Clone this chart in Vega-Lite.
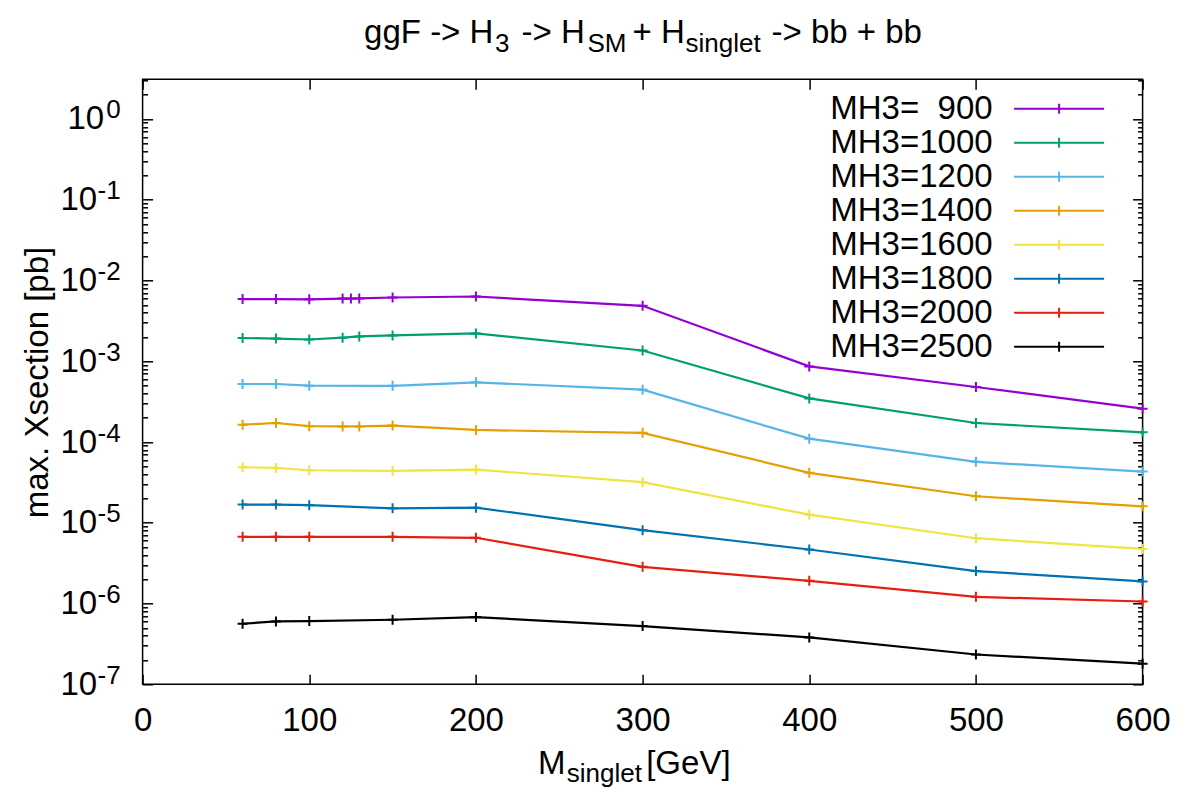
{
  "$schema": "https://vega.github.io/schema/vega-lite/v6.json",
  "width": 1000,
  "height": 605,
  "autosize": {"type": "none"},
  "padding": {"left": 142.6, "top": 79.3, "right": 43.4, "bottom": 108.7},
  "background": "white",
  "config": {
    "font": "Liberation Sans",
    "view": {"stroke": "#000", "strokeWidth": 1.5},
    "axis": {"grid": false, "domain": false, "labelFont": "Liberation Sans", "titleFont": "Liberation Sans", "labelColor": "#000", "titleColor": "#000", "titleFontWeight": "normal", "tickColor": "#000", "tickWidth": 1.5, "labelFontSize": 33, "titleFontSize": 33, "labelFlush": false}
  },
  "data": {"values": [
    {"s": "MH3=\u00a0\u00a0900", "m": 60, "v": 5.89e-3}, {"s": "MH3=\u00a0\u00a0900", "m": 80, "v": 5.89e-3}, {"s": "MH3=\u00a0\u00a0900", "m": 100, "v": 5.85e-3}, {"s": "MH3=\u00a0\u00a0900", "m": 120, "v": 5.98e-3}, {"s": "MH3=\u00a0\u00a0900", "m": 125, "v": 5.98e-3}, {"s": "MH3=\u00a0\u00a0900", "m": 130, "v": 6.0e-3}, {"s": "MH3=\u00a0\u00a0900", "m": 150, "v": 6.16e-3}, {"s": "MH3=\u00a0\u00a0900", "m": 200, "v": 6.34e-3}, {"s": "MH3=\u00a0\u00a0900", "m": 300, "v": 4.86e-3}, {"s": "MH3=\u00a0\u00a0900", "m": 400, "v": 8.64e-4}, {"s": "MH3=\u00a0\u00a0900", "m": 500, "v": 4.80e-4}, {"s": "MH3=\u00a0\u00a0900", "m": 600, "v": 2.59e-4},
    {"s": "MH3=1000", "m": 60, "v": 1.94e-3}, {"s": "MH3=1000", "m": 80, "v": 1.91e-3}, {"s": "MH3=1000", "m": 100, "v": 1.86e-3}, {"s": "MH3=1000", "m": 120, "v": 1.96e-3}, {"s": "MH3=1000", "m": 130, "v": 2.03e-3}, {"s": "MH3=1000", "m": 150, "v": 2.09e-3}, {"s": "MH3=1000", "m": 200, "v": 2.21e-3}, {"s": "MH3=1000", "m": 300, "v": 1.36e-3}, {"s": "MH3=1000", "m": 400, "v": 3.47e-4}, {"s": "MH3=1000", "m": 500, "v": 1.72e-4}, {"s": "MH3=1000", "m": 600, "v": 1.32e-4},
    {"s": "MH3=1200", "m": 60, "v": 5.23e-4}, {"s": "MH3=1200", "m": 80, "v": 5.23e-4}, {"s": "MH3=1200", "m": 100, "v": 4.99e-4}, {"s": "MH3=1200", "m": 150, "v": 4.96e-4}, {"s": "MH3=1200", "m": 200, "v": 5.48e-4}, {"s": "MH3=1200", "m": 300, "v": 4.45e-4}, {"s": "MH3=1200", "m": 400, "v": 1.10e-4}, {"s": "MH3=1200", "m": 500, "v": 5.68e-5}, {"s": "MH3=1200", "m": 600, "v": 4.30e-5},
    {"s": "MH3=1400", "m": 60, "v": 1.64e-4}, {"s": "MH3=1400", "m": 80, "v": 1.72e-4}, {"s": "MH3=1400", "m": 100, "v": 1.57e-4}, {"s": "MH3=1400", "m": 120, "v": 1.56e-4}, {"s": "MH3=1400", "m": 130, "v": 1.56e-4}, {"s": "MH3=1400", "m": 150, "v": 1.60e-4}, {"s": "MH3=1400", "m": 200, "v": 1.41e-4}, {"s": "MH3=1400", "m": 300, "v": 1.30e-4}, {"s": "MH3=1400", "m": 400, "v": 4.15e-5}, {"s": "MH3=1400", "m": 500, "v": 2.13e-5}, {"s": "MH3=1400", "m": 600, "v": 1.60e-5},
    {"s": "MH3=1600", "m": 60, "v": 4.87e-5}, {"s": "MH3=1600", "m": 80, "v": 4.78e-5}, {"s": "MH3=1600", "m": 100, "v": 4.47e-5}, {"s": "MH3=1600", "m": 150, "v": 4.39e-5}, {"s": "MH3=1600", "m": 200, "v": 4.56e-5}, {"s": "MH3=1600", "m": 300, "v": 3.18e-5}, {"s": "MH3=1600", "m": 400, "v": 1.26e-5}, {"s": "MH3=1600", "m": 500, "v": 6.44e-6}, {"s": "MH3=1600", "m": 600, "v": 4.75e-6},
    {"s": "MH3=1800", "m": 60, "v": 1.68e-5}, {"s": "MH3=1800", "m": 80, "v": 1.68e-5}, {"s": "MH3=1800", "m": 100, "v": 1.65e-5}, {"s": "MH3=1800", "m": 150, "v": 1.51e-5}, {"s": "MH3=1800", "m": 200, "v": 1.54e-5}, {"s": "MH3=1800", "m": 300, "v": 8.09e-6}, {"s": "MH3=1800", "m": 400, "v": 4.67e-6}, {"s": "MH3=1800", "m": 500, "v": 2.52e-6}, {"s": "MH3=1800", "m": 600, "v": 1.88e-6},
    {"s": "MH3=2000", "m": 60, "v": 6.70e-6}, {"s": "MH3=2000", "m": 80, "v": 6.70e-6}, {"s": "MH3=2000", "m": 100, "v": 6.70e-6}, {"s": "MH3=2000", "m": 150, "v": 6.70e-6}, {"s": "MH3=2000", "m": 200, "v": 6.52e-6}, {"s": "MH3=2000", "m": 300, "v": 2.85e-6}, {"s": "MH3=2000", "m": 400, "v": 1.91e-6}, {"s": "MH3=2000", "m": 500, "v": 1.21e-6}, {"s": "MH3=2000", "m": 600, "v": 1.06e-6},
    {"s": "MH3=2500", "m": 60, "v": 5.62e-7}, {"s": "MH3=2500", "m": 80, "v": 6.01e-7}, {"s": "MH3=2500", "m": 100, "v": 6.06e-7}, {"s": "MH3=2500", "m": 150, "v": 6.3e-7}, {"s": "MH3=2500", "m": 200, "v": 6.79e-7}, {"s": "MH3=2500", "m": 300, "v": 5.26e-7}, {"s": "MH3=2500", "m": 400, "v": 3.81e-7}, {"s": "MH3=2500", "m": 500, "v": 2.34e-7}, {"s": "MH3=2500", "m": 600, "v": 1.80e-7}
  ]},
  "layer": [
    {
      "mark": {"type": "line", "strokeWidth": 2.2},
      "encoding": {
        "x": {"field": "m", "type": "quantitative", "scale": {"domain": [0, 600], "nice": false, "zero": false},
          "axis": {"orient": "bottom", "values": [0, 100, 200, 300, 400, 500, 600], "ticks": false, "labelPadding": 20, "labelBaseline": "top",
            "title": "M", "titleX": 395, "titleY": 89, "titleAlign": "left", "titleBaseline": "alphabetic", "titleAngle": 0}},
        "y": {"field": "v", "type": "quantitative", "scale": {"type": "log", "domain": [1e-7, 3.1], "nice": false},
          "axis": {"orient": "left", "values": [1e-7, 1e-6, 1e-5, 1e-4, 1e-3, 1e-2, 1e-1, 1], "ticks": false, "labelExpr": "'10'", "labelAlign": "right", "labelBaseline": "middle",
            "labelPadding": {"condition": {"test": "datum.value > 0.5", "value": 39}, "value": 46},
            "title": "max. Xsection [pb]", "titleX": -105, "titleY": 302.7, "titleAlign": "center", "titleBaseline": "middle", "titleAngle": 270}},
        "color": {"field": "s", "type": "nominal",
          "scale": {"domain": ["MH3=\u00a0\u00a0900", "MH3=1000", "MH3=1200", "MH3=1400", "MH3=1600", "MH3=1800", "MH3=2000", "MH3=2500"],
            "range": ["#9400d3", "#009e73", "#56b4e9", "#e69f00", "#f0e442", "#0072b2", "#e51e10", "#000000"]},
          "legend": {"orient": "none", "legendX": 900, "legendY": 13, "title": null, "labelFont": "Liberation Sans", "labelFontSize": 33, "labelColor": "#000",
            "labelAlign": "right", "labelOffset": -83, "labelLimit": 0, "symbolType": "M-9,0H9M0,-1V1", "symbolSize": 100, "symbolStrokeWidth": 2, "rowPadding": -1.7, "padding": 0}}
      }
    },
    {
      "mark": {"type": "point", "shape": "M-1,0H1M0,-1V1", "size": 100, "filled": false, "strokeWidth": 2, "opacity": 1},
      "encoding": {
        "x": {"field": "m", "type": "quantitative",
          "axis": {"orient": "bottom", "labels": false, "ticks": false, "title": "singlet", "titleFontSize": 26, "titleX": 423.6, "titleY": 96.7, "titleAlign": "left", "titleBaseline": "alphabetic", "titleAngle": 0}},
        "y": {"field": "v", "type": "quantitative",
          "axis": {"orient": "left", "values": [1e-7, 1e-6, 1e-5, 1e-4, 1e-3, 1e-2, 1e-1, 1], "ticks": false,
            "labelExpr": "datum.value > 0.5 ? '0' : '-' + format(-log(datum.value)/LN10, '.0f')", "labelFontSize": 26, "labelAlign": "right", "labelBaseline": "middle", "labelPadding": 22.5, "labelOffset": -9,
            "title": "3", "titleFontSize": 26, "titleX": 352, "titleY": -28.3, "titleAlign": "left", "titleBaseline": "alphabetic", "titleAngle": 0}},
        "color": {"field": "s", "type": "nominal"}
      }
    },
    {
      "mark": {"type": "point", "opacity": 0},
      "encoding": {
        "x": {"field": "m", "type": "quantitative",
          "axis": {"orient": "top", "offset": -605, "values": [0, 100, 200, 300, 400, 500, 600], "labels": false, "ticks": true, "tickSize": 10,
            "title": "[GeV]", "titleX": 503.1, "titleY": 89, "titleAlign": "left", "titleBaseline": "alphabetic", "titleAngle": 0}},
        "y": {"field": "v", "type": "quantitative",
          "axis": {"orient": "right", "offset": -1000,
            "values": [1e-7,2e-7,3e-7,4e-7,5e-7,6e-7,7e-7,8e-7,9e-7,1e-6,2e-6,3e-6,4e-6,5e-6,6e-6,7e-6,8e-6,9e-6,1e-5,2e-5,3e-5,4e-5,5e-5,6e-5,7e-5,8e-5,9e-5,1e-4,2e-4,3e-4,4e-4,5e-4,6e-4,7e-4,8e-4,9e-4,1e-3,2e-3,3e-3,4e-3,5e-3,6e-3,7e-3,8e-3,9e-3,1e-2,2e-2,3e-2,4e-2,5e-2,6e-2,7e-2,8e-2,9e-2,1e-1,2e-1,3e-1,4e-1,5e-1,6e-1,7e-1,8e-1,9e-1,1,2,3],
            "labels": false, "ticks": true,
            "tickSize": {"condition": {"test": "abs(log(datum.value)/LN10 - round(log(datum.value)/LN10)) < 0.01", "value": 10}, "value": 5},
            "title": "SM", "titleFontSize": 26, "titleX": 444.4, "titleY": -28.3, "titleAlign": "left", "titleBaseline": "alphabetic", "titleAngle": 0}}
      }
    },
    {
      "mark": {"type": "point", "opacity": 0},
      "encoding": {
        "x": {"field": "m", "type": "quantitative",
          "axis": {"orient": "bottom", "offset": -605, "values": [0, 100, 200, 300, 400, 500, 600], "labels": false, "ticks": true, "tickSize": 10,
            "title": "-> H", "titleX": 378.4, "titleY": -37.3, "titleAlign": "left", "titleBaseline": "alphabetic", "titleAngle": 0}},
        "y": {"field": "v", "type": "quantitative",
          "axis": {"orient": "left", "offset": -1000,
            "values": [1e-7,2e-7,3e-7,4e-7,5e-7,6e-7,7e-7,8e-7,9e-7,1e-6,2e-6,3e-6,4e-6,5e-6,6e-6,7e-6,8e-6,9e-6,1e-5,2e-5,3e-5,4e-5,5e-5,6e-5,7e-5,8e-5,9e-5,1e-4,2e-4,3e-4,4e-4,5e-4,6e-4,7e-4,8e-4,9e-4,1e-3,2e-3,3e-3,4e-3,5e-3,6e-3,7e-3,8e-3,9e-3,1e-2,2e-2,3e-2,4e-2,5e-2,6e-2,7e-2,8e-2,9e-2,1e-1,2e-1,3e-1,4e-1,5e-1,6e-1,7e-1,8e-1,9e-1,1,2,3],
            "labels": false, "ticks": true,
            "tickSize": {"condition": {"test": "abs(log(datum.value)/LN10 - round(log(datum.value)/LN10)) < 0.01", "value": 10}, "value": 5},
            "title": "singlet", "titleFontSize": 26, "titleX": -457.6, "titleY": -28.3, "titleAlign": "left", "titleBaseline": "alphabetic", "titleAngle": 0}}
      }
    },
    {
      "mark": {"type": "point", "opacity": 0},
      "encoding": {
        "x": {"field": "m", "type": "quantitative",
          "axis": {"orient": "top", "labels": false, "ticks": false,
            "title": "ggF -> H", "titleX": 221, "titleY": -37.3, "titleAlign": "left", "titleBaseline": "alphabetic", "titleAngle": 0}},
        "y": {"field": "v", "type": "quantitative",
          "axis": {"orient": "left", "labels": false, "ticks": false,
            "title": "+ H", "titleX": 489.4, "titleY": -37.3, "titleAlign": "left", "titleBaseline": "alphabetic", "titleAngle": 0}}
      }
    },
    {
      "mark": {"type": "point", "opacity": 0},
      "encoding": {
        "x": {"field": "m", "type": "quantitative",
          "axis": {"orient": "top", "labels": false, "ticks": false,
            "title": "-> bb + bb", "titleX": 628.4, "titleY": -37.3, "titleAlign": "left", "titleBaseline": "alphabetic", "titleAngle": 0}},
        "y": {"field": "v", "type": "quantitative", "axis": null}
      }
    }
  ],
  "resolve": {"axis": {"x": "independent", "y": "independent"}}
}
